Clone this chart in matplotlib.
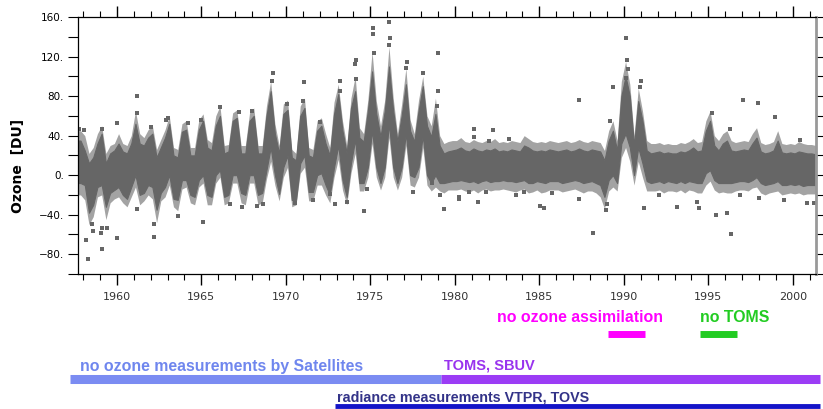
import numpy as np
import matplotlib
matplotlib.use("Agg")
import matplotlib.pyplot as plt
from matplotlib.transforms import blended_transform_factory

# dense core of the daily ozone cloud, one pair per quarter from 1957.6 on
band_lo = [
    -8, -8,
    -10, -38, -30, -12,   # 1958
    -10, -32, -18, -15,   # 1959
    -12, -20, -24, -12,   # 1960
    0, -20, -18, -10,     # 1961
    -12, -35, -18, -12,   # 1962
    0, -24, -25, -5,      # 1963
    -5, -20, -22, -5,     # 1964
    0, -20, -22, 0,       # 1965
    5, -22, -20, 0,       # 1966
    0, -18, -20, 0,       # 1967
    0, -20, -18, 5,       # 1968
    28, 0, -19, 8,        # 1969
    20, -25, -25, 12,     # 1970
    20, -17, -17, 0,      # 1971
    2, -10, -20, 8,       # 1972
    30, -5, -22, 12,      # 1973
    36, -8, -8, 8,        # 1974
    45, 8, -8, 8,         # 1975
    52, 8, -8, 8,         # 1976
    42, 0, -2, 8,         # 1977
    40, 0, -8, 0,         # 1978
    -8, -8, -7, -6,       # 1979
    -6, -5, -6, -7,       # 1980
    -6, -8, -6, -5,       # 1981
    -7, -6, -6, -5,       # 1982
    -6, -6, -7, -6,       # 1983
    -5, -8, -8, -6,       # 1984
    -7, -8, -6, -6,       # 1985
    -6, -8, -7, -6,       # 1986
    -5, -6, -8, -7,       # 1987
    -6, -8, -10, -22,     # 1988
    -5, 0, -8, 32,        # 1989
    42, 28, 0, 28,        # 1990
    12, -6, -8, -7,       # 1991
    -6, -8, -6, -7,       # 1992
    -8, -6, -8, -6,       # 1993
    -7, -8, -8, 2,        # 1994
    5, -5, -8, -8,        # 1995
    -8, -8, -7, -6,       # 1996
    -6, -7, -5, -2,       # 1997
    -8, -10, -9, -8,      # 1998
    -6, -10, -10, -9,     # 1999
    -10, -9, -11, -10,    # 2000
    -10, -10,             # 2001
]
band_hi = [
    35, 35,
    25, 12, 18, 32,       # 1958
    42, 12, 22, 25,       # 1959
    32, 24, 22, 32,       # 1960
    52, 32, 30, 38,       # 1961
    42, 18, 28, 38,       # 1962
    52, 20, 18, 44,       # 1963
    46, 20, 20, 46,       # 1964
    55, 28, 25, 50,       # 1965
    60, 22, 24, 55,       # 1966
    58, 22, 22, 55,       # 1967
    60, 22, 22, 60,       # 1968
    85, 42, 22, 62,       # 1969
    66, 18, 15, 60,       # 1970
    68, 20, 18, 45,       # 1971
    50, 32, 20, 62,       # 1972
    82, 45, 22, 68,       # 1973
    85, 38, 34, 65,       # 1974
    105, 62, 39, 65,      # 1975
    110, 65, 34, 60,      # 1976
    92, 45, 34, 65,       # 1977
    90, 50, 39, 62,       # 1978
    30, 22, 24, 25,       # 1979
    26, 28, 25, 24,       # 1980
    27, 25, 24, 26,       # 1981
    25, 27, 24, 25,       # 1982
    24, 26, 25, 24,       # 1983
    30, 28, 25, 24,       # 1984
    25, 24, 26, 25,       # 1985
    24, 25, 26, 24,       # 1986
    25, 27, 25, 24,       # 1987
    26, 25, 24, 15,       # 1988
    35, 45, 25, 80,       # 1989
    100, 80, 30, 75,      # 1990
    55, 25, 22, 23,       # 1991
    24, 22, 23, 22,       # 1992
    22, 24, 23, 25,       # 1993
    28, 24, 25, 45,       # 1994
    55, 30, 25, 32,       # 1995
    35, 25, 24, 25,       # 1996
    26, 25, 32, 38,       # 1997
    24, 22, 23, 25,       # 1998
    35, 23, 22, 23,       # 1999
    22, 24, 23, 22,       # 2000
    22, 21,               # 2001
]
# sparse fringe of the cloud around the core, same quarters
fringe_lo = [
    -20, -20,
    -25, -50, -42, -22,   # 1958
    -20, -45, -28, -24,   # 1959
    -22, -28, -32, -22,   # 1960
    -12, -30, -26, -20,   # 1961
    -24, -48, -26, -22,   # 1962
    -10, -32, -36, -14,   # 1963
    -12, -28, -30, -12,   # 1964
    -8, -30, -30, -8,     # 1965
    -2, -30, -28, -8,     # 1966
    -8, -28, -30, -8,     # 1967
    -8, -30, -28, -4,     # 1968
    14, -10, -26, -2,     # 1969
    8, -32, -30, 2,       # 1970
    8, -26, -26, -10,     # 1971
    -10, -20, -28, -2,    # 1972
    16, -15, -30, 2,      # 1973
    22, -16, -16, -2,     # 1974
    32, -2, -15, -2,      # 1975
    38, -2, -15, -2,      # 1976
    30, -10, -12, -2,     # 1977
    28, -10, -16, -12,    # 1978
    -16, -18, -15, -15,   # 1979
    -15, -14, -16, -17,   # 1980
    -15, -18, -15, -14,   # 1981
    -16, -15, -15, -14,   # 1982
    -15, -16, -17, -15,   # 1983
    -14, -18, -17, -15,   # 1984
    -18, -17, -15, -15,   # 1985
    -15, -17, -16, -15,   # 1986
    -14, -16, -18, -16,   # 1987
    -16, -18, -22, -34,   # 1988
    -16, -12, -16, 18,    # 1989
    28, 14, -10, 14,      # 1990
    -2, -16, -16, -16,    # 1991
    -15, -18, -16, -16,   # 1992
    -17, -15, -18, -15,   # 1993
    -16, -18, -18, -10,   # 1994
    -6, -15, -18, -17,    # 1995
    -18, -18, -16, -15,   # 1996
    -15, -16, -13, -12,   # 1997
    -18, -20, -18, -17,   # 1998
    -16, -20, -19, -18,   # 1999
    -19, -18, -20, -19,   # 2000
    -19, -19,             # 2001
]
fringe_hi = [
    45, 45,
    40, 22, 28, 42,       # 1958
    50, 22, 30, 32,       # 1959
    42, 32, 30, 40,       # 1960
    65, 42, 38, 46,       # 1961
    50, 26, 36, 46,       # 1962
    60, 28, 26, 52,       # 1963
    55, 28, 28, 56,       # 1964
    62, 36, 33, 60,       # 1965
    70, 30, 31, 63,       # 1966
    66, 30, 30, 63,       # 1967
    68, 30, 30, 70,       # 1968
    95, 52, 30, 72,       # 1969
    76, 26, 22, 70,       # 1970
    78, 28, 26, 55,       # 1971
    58, 42, 28, 74,       # 1972
    92, 55, 30, 78,       # 1973
    100, 48, 42, 76,      # 1974
    125, 75, 50, 76,      # 1975
    130, 78, 42, 72,      # 1976
    108, 56, 42, 76,      # 1977
    100, 60, 50, 78,      # 1978
    40, 32, 34, 35,       # 1979
    35, 38, 34, 33,       # 1980
    36, 34, 33, 35,       # 1981
    34, 37, 33, 34,       # 1982
    33, 35, 34, 33,       # 1983
    40, 37, 34, 33,       # 1984
    34, 33, 35, 34,       # 1985
    33, 34, 35, 33,       # 1986
    34, 36, 34, 33,       # 1987
    35, 34, 33, 25,       # 1988
    45, 55, 35, 95,       # 1989
    115, 92, 40, 88,      # 1990
    65, 35, 32, 32,       # 1991
    33, 31, 32, 31,       # 1992
    31, 33, 32, 34,       # 1993
    37, 33, 34, 55,       # 1994
    65, 40, 35, 42,       # 1995
    45, 35, 33, 34,       # 1996
    35, 34, 42, 48,       # 1997
    33, 31, 32, 34,       # 1998
    45, 32, 31, 32,       # 1999
    31, 34, 32, 31,       # 2000
    31, 30,               # 2001
]

# isolated days outside the cloud
out_year = [1957.78, 1958.07, 1958.16, 1958.3, 1958.56, 1958.55, 1959.1, 1959.08,
            1959.12, 1959.1, 1959.4, 1960.0, 1960.0, 1961.2, 1961.18, 1961.2, 1962.0,
            1962.2, 1962.17, 1962.9, 1963.05, 1963.61, 1964.2, 1965.09, 1964.99, 1966.1,
            1966.67, 1967.2, 1967.4, 1968.0, 1968.3, 1969.21, 1969.15, 1968.66, 1970.04,
            1970.53, 1971.1, 1971.0, 1971.6, 1972.0, 1972.6, 1972.9, 1973.2, 1973.18,
            1973.6, 1974.14, 1974.16, 1974.1, 1974.65, 1974.8, 1975.13, 1975.16, 1975.2,
            1976.11, 1976.14, 1976.11, 1977.16, 1977.1, 1977.55, 1978.09, 1978.64,
            1978.99, 1978.99, 1978.96, 1979.13, 1979.33, 1980.24, 1980.27, 1981.12,
            1981.14, 1980.83, 1981.36, 1981.87, 1982.27, 1982.02, 1983.2, 1983.6,
            1984.1, 1985.01, 1985.3, 1985.74, 1987.36, 1987.36, 1988.2, 1988.97,
            1989.03, 1989.37, 1989.17, 1990.1, 1990.18, 1990.24, 1990.14, 1991.0,
            1990.95, 1991.22, 1992.05, 1993.16, 1994.34, 1994.42, 1995.21, 1995.46,
            1996.11, 1996.33, 1997.02, 1997.91, 1998.94, 1996.9, 1998.0, 1999.5,
            2000.85, 2001.27, 2000.4, 1996.26]
out_val = [47, 46, -66, -85, -56, -49, -75, -59, -53, 47, -53, 53, -64, 80, 63, -34, 49,
           -63, -49, 56, 58, -41, 53, -47, 56, 69, -29, 64, -32, 65, -31, 103, 95, -29,
           72, -28, 94, 75, -25, 54, -19, -29, 95, 85, -27, 117, 97, 112, -36, -14, 149,
           143, 124, 155, 139, 132, 114, 108, -17, 103, -8, 124, 85, 70, -20, -34, -24,
           -22, 47, 39, -17, -27, -17, 46, 35, 37, -20, -17, -31, -33, -18, 76, -24,
           -59, -35, -29, 89, 55, 139, 117, 107, 98, 95, 89, -33, -20, -32, -27, -33, 63,
           -40, -38, -60, 76, 73, 59, -20, -23, -25, -28, -28, 36, 47]

# observing system periods shown under the chart
sat_periods = [(1957.22, 1979.17), (1979.17, 2001.6)]
radiance_period = (1972.9, 2001.6)
no_assim_period = (1989.05, 1991.24)
no_toms_period = (1994.5, 1996.69)

W, H = 823, 409
GRAY = "#666666"

fig = plt.figure(figsize=(W / 100, H / 100), dpi=100)
ax = fig.add_axes([78 / W, 1 - 274 / H, (815.7 - 78) / W, (274 - 17) / H])

quarters = 1957.6 + 0.25 * np.arange(len(band_lo))
ax.fill_between(quarters, fringe_lo, fringe_hi, color="#a3a3a3", lw=0)
ax.fill_between(quarters, band_lo, band_hi, color=GRAY, lw=0.8, edgecolor=GRAY)
ax.scatter(out_year, out_val, s=5, color=GRAY, marker="s", linewidths=0)

ax.set_xlim(1957.7, 2001.35)
ax.set_ylim(-100, 160)
ax.set_xticks(range(1960, 2001, 5))
ax.set_xticks(range(1958, 2002), minor=True)
ax.set_yticks(range(-80, 161, 40))
ax.set_yticks(range(-100, 161, 40), minor=True)
ax.set_yticklabels([f"{v:d}.".replace("-", "\u2212") for v in range(-80, 161, 40)])

ax.tick_params(axis="x", which="both", direction="out", top=True, bottom=True,
               labelsize=8, labelcolor="#333333", pad=5)
ax.tick_params(axis="x", which="major", length=8, width=1)
ax.tick_params(axis="x", which="minor", length=4, width=0.8)
ax.tick_params(axis="y", which="both", direction="out", left=True, right=True,
               length=7, width=0.8, labelsize=7.5, pad=3)
for s in ["left", "top", "bottom"]:
    ax.spines[s].set_linewidth(0.9)
ax.spines["right"].set_color("#999999")
ax.spines["right"].set_linewidth(2)

fig.text(18 / W, 1 - 166 / H, "Ozone  [DU]", rotation=90, ha="center", va="center",
         fontsize=10, fontweight="bold")

# period bars and labels below the axes
tr = blended_transform_factory(ax.transData, fig.transFigure)
lab = dict(fontfamily="Liberation Sans", fontweight="bold", va="center", ha="left")


def bar(span, ypix, lw, color):
    ax.plot(span, [1 - ypix / H] * 2, transform=tr, clip_on=False, color=color,
            lw=lw, solid_capstyle="butt")


bar(no_assim_period, 333.5, 5, "#ff00ff")
bar(no_toms_period, 333.5, 5, "#22cc22")
bar(sat_periods[0], 378.5, 6.5, "#7b8cf2")
bar(sat_periods[1], 378.5, 6.5, "#9b3cf5")
bar(radiance_period, 406, 3.5, "#1414c8")

fig.text(497 / W, 1 - 318 / H, "no ozone assimilation", color="#ff00ff", fontsize=11.4, **lab)
fig.text(700 / W, 1 - 318 / H, "no TOMS", color="#22cc22", fontsize=11.4, **lab)
fig.text(80 / W, 1 - 366 / H, "no ozone measurements by Satellites", color="#6f86ee",
         fontsize=11.4, **lab)
fig.text(444 / W, 1 - 366 / H, "TOMS, SBUV", color="#9933ee", fontsize=10.5, **lab)
fig.text(337 / W, 1 - 397 / H, "radiance measurements VTPR, TOVS", color="#333388",
         fontsize=10.3, **lab)

fig.savefig("out.png", dpi=100)
